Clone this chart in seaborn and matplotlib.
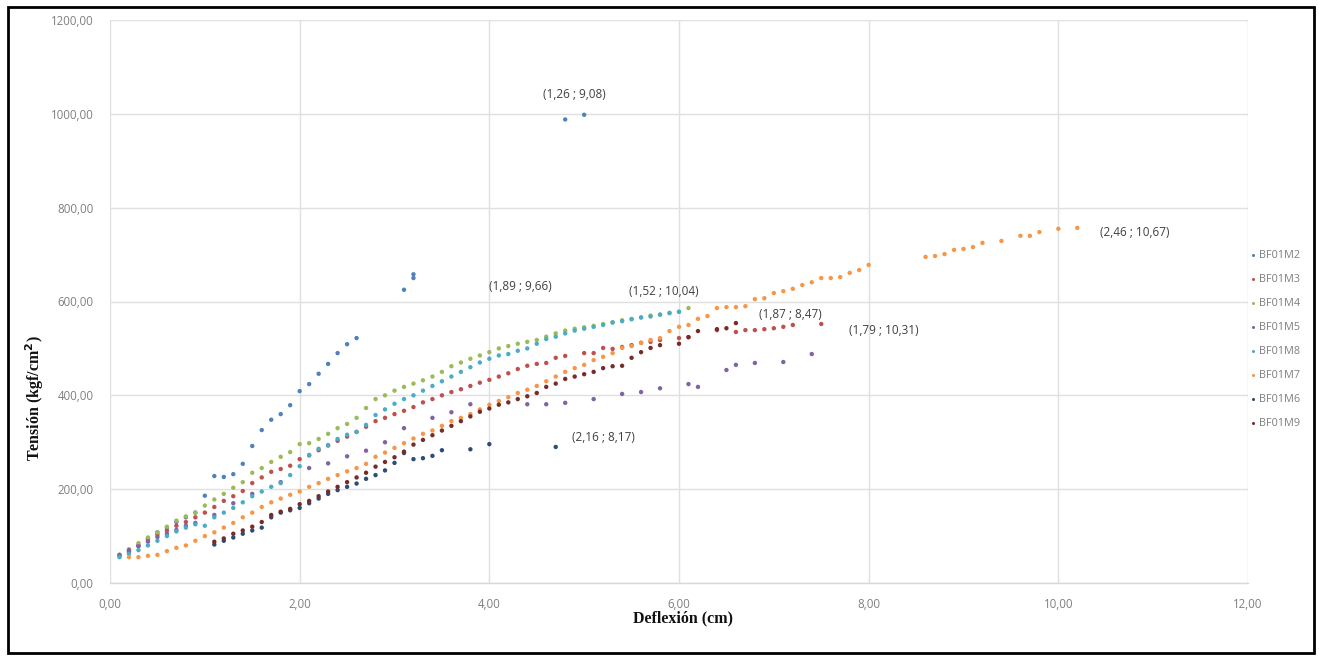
import matplotlib
matplotlib.use("Agg")
import matplotlib.pyplot as plt
import seaborn as sns
import pandas as pd
from matplotlib.patches import Rectangle
from matplotlib.ticker import FuncFormatter

# ---------------- data ----------------
series_names = ["BF01M2", "BF01M3", "BF01M4", "BF01M5", "BF01M8", "BF01M7", "BF01M6", "BF01M9"]

m2_x = [0.1, 0.2, 0.3, 0.4, 0.5, 0.6, 0.7, 0.8, 0.9, 1.0, 1.1, 1.2, 1.3, 1.4, 1.5, 1.6, 1.7, 1.8, 1.9,
        2.0, 2.1, 2.2, 2.3, 2.4, 2.5, 2.6, 3.1, 3.2, 3.2, 4.8, 5.0]
m2_y = [58, 68, 80, 95, 108, 118, 130, 140, 150, 186, 228, 226, 232, 254, 292, 326, 348, 360, 379,
        409, 424, 446, 467, 490, 509, 522, 625, 650, 658, 988, 998]

m3_x = [0.1, 0.2, 0.3, 0.4, 0.5, 0.6, 0.7, 0.8, 0.9, 1.0, 1.1, 1.2, 1.3, 1.4, 1.5, 1.6, 1.7, 1.8, 1.9,
        2.0, 2.1, 2.2, 2.3, 2.4, 2.5, 2.6, 2.7, 2.8, 2.9, 3.0, 3.1, 3.2, 3.3, 3.4, 3.5, 3.6, 3.7, 3.8,
        3.9, 4.0, 4.1, 4.2, 4.3, 4.4, 4.5, 4.6, 4.7, 4.8, 5.0, 5.1, 5.2, 5.3, 5.4, 5.5, 5.6, 5.7, 5.8,
        6.0, 6.1, 6.4, 6.6, 6.7, 6.8, 6.9, 7.0, 7.1, 7.2, 7.5]
m3_y = [58, 66, 80, 92, 103, 112, 122, 130, 140, 150, 162, 175, 185, 196, 213, 225, 237, 243, 250,
        264, 272, 283, 293, 303, 312, 322, 333, 345, 352, 360, 367, 375, 385, 392, 400, 407, 413, 420,
        427, 433, 440, 447, 456, 463, 467, 469, 480, 484, 490, 490, 501, 499, 503, 507, 512, 514, 518,
        522, 524, 539, 535, 539, 539, 541, 543, 546, 550, 552]

m4_x = [0.1, 0.2, 0.3, 0.4, 0.5, 0.6, 0.7, 0.8, 0.9, 1.0, 1.1, 1.2, 1.3, 1.4, 1.5, 1.6, 1.7, 1.8, 1.9,
        2.0, 2.1, 2.2, 2.3, 2.4, 2.5, 2.6, 2.7, 2.8, 2.9, 3.0, 3.1, 3.2, 3.3, 3.4, 3.5, 3.6, 3.7, 3.8,
        3.9, 4.0, 4.1, 4.2, 4.3, 4.4, 4.5, 4.6, 4.7, 4.8, 4.9, 5.0, 5.1, 5.2, 5.3, 5.4, 5.5, 5.6, 5.7,
        5.8, 5.9, 6.0, 6.1]
m4_y = [60, 72, 85, 97, 108, 120, 133, 142, 150, 165, 178, 190, 203, 215, 235, 245, 258, 269, 279,
        296, 298, 307, 318, 330, 339, 352, 373, 392, 400, 410, 418, 425, 432, 440, 450, 462, 470, 478,
        485, 492, 500, 505, 510, 514, 518, 525, 532, 538, 542, 545, 548, 552, 556, 560, 563, 566, 570,
        572, 576, 578, 586]

m5_x = [0.1, 0.2, 0.3, 0.4, 0.5, 0.6, 0.7, 0.8, 0.9, 1.1, 1.3, 1.5, 1.8, 2.1, 2.3, 2.5, 2.7, 2.9, 3.1,
        3.4, 3.6, 3.8, 4.4, 4.6, 4.8, 5.1, 5.4, 5.6, 5.8, 6.1, 6.2, 6.5, 6.6, 6.8, 7.1, 7.4]
m5_y = [60, 70, 78, 88, 98, 105, 113, 122, 128, 145, 170, 190, 215, 245, 255, 270, 282, 300, 330,
        352, 364, 381, 381, 381, 384, 392, 403, 407, 415, 424, 418, 454, 465, 469, 471, 488]

m8_x = [0.1, 0.2, 0.3, 0.4, 0.5, 0.6, 0.7, 0.8, 0.9, 1.0, 1.1, 1.2, 1.3, 1.4, 1.5, 1.6, 1.7, 1.8, 1.9,
        2.0, 2.1, 2.2, 2.3, 2.4, 2.5, 2.6, 2.7, 2.8, 2.9, 3.0, 3.1, 3.2, 3.3, 3.4, 3.5, 3.6, 3.7, 3.8,
        3.9, 4.0, 4.1, 4.2, 4.3, 4.4, 4.5, 4.6, 4.7, 4.8, 4.9, 5.0, 5.1, 5.2, 5.3, 5.4, 5.5, 5.6, 5.7,
        5.8, 5.9, 6.0]
m8_y = [55, 62, 70, 80, 90, 100, 110, 118, 125, 122, 140, 150, 160, 172, 185, 195, 205, 213, 230,
        249, 273, 286, 294, 307, 316, 322, 337, 358, 370, 382, 392, 400, 410, 420, 430, 440, 450, 460,
        470, 478, 485, 488, 495, 500, 510, 520, 525, 532, 538, 542, 546, 550, 555, 558, 562, 566, 568,
        572, 575, 578]

m7_x = [0.2, 0.3, 0.4, 0.5, 0.6, 0.7, 0.8, 0.9, 1.0, 1.1, 1.2, 1.3, 1.4, 1.5, 1.6, 1.7, 1.8, 1.9, 2.0,
        2.1, 2.2, 2.3, 2.4, 2.5, 2.6, 2.7, 2.8, 2.9, 3.0, 3.1, 3.2, 3.3, 3.4, 3.5, 3.6, 3.7, 3.8, 3.9,
        4.0, 4.1, 4.2, 4.3, 4.4, 4.5, 4.6, 4.7, 4.8, 4.9, 5.0, 5.1, 5.2, 5.3, 5.4, 5.5, 5.6, 5.7, 5.8,
        5.9, 6.0, 6.1, 6.2, 6.3, 6.4, 6.5, 6.6, 6.7, 6.8, 6.9, 7.0, 7.1, 7.2, 7.3, 7.4, 7.5, 7.6, 7.7,
        7.8, 7.9, 8.0, 8.6, 8.7, 8.8, 8.9, 9.0, 9.1, 9.2, 9.4, 9.6, 9.7, 9.8, 10.0, 10.2]
m7_y = [55, 55, 58, 60, 68, 75, 80, 90, 100, 108, 118, 128, 140, 150, 162, 172, 180, 188, 195,
        205, 213, 222, 230, 238, 245, 254, 269, 278, 288, 298, 308, 318, 325, 335, 345, 352, 360, 370,
        380, 388, 396, 405, 412, 420, 430, 440, 450, 458, 465, 475, 482, 490, 501, 505, 512, 518, 522,
        537, 546, 550, 563, 569, 586, 588, 588, 590, 605, 607, 618, 622, 627, 635, 641, 650, 650, 652,
        661, 667, 678, 695, 697, 701, 710, 712, 716, 725, 729, 740, 740, 748, 755, 757]

m6_x = [1.1, 1.2, 1.3, 1.4, 1.5, 1.6, 1.7, 1.8, 1.9, 2.0, 2.1, 2.2, 2.3, 2.4, 2.5, 2.6, 2.7, 2.8, 2.9,
        3.0, 3.1, 3.2, 3.3, 3.4, 3.5, 3.8, 4.0, 4.7]
m6_y = [82, 90, 97, 105, 112, 118, 140, 150, 155, 160, 170, 180, 190, 198, 205, 212, 222, 230, 240,
        256, 277, 264, 266, 271, 283, 285, 296, 290]

m9_x = [1.1, 1.2, 1.3, 1.4, 1.5, 1.6, 1.7, 1.8, 1.9, 2.0, 2.1, 2.2, 2.3, 2.4, 2.5, 2.6, 2.7, 2.8, 2.9,
        3.0, 3.1, 3.2, 3.3, 3.4, 3.5, 3.6, 3.7, 3.8, 3.9, 4.0, 4.1, 4.2, 4.3, 4.4, 4.5, 4.6, 4.7, 4.8,
        4.9, 5.0, 5.1, 5.2, 5.3, 5.4, 5.5, 5.6, 5.7, 5.8, 6.0, 6.1, 6.2, 6.4, 6.5, 6.6]
m9_y = [88, 95, 105, 112, 120, 130, 145, 152, 158, 168, 175, 185, 195, 205, 215, 225, 235, 248, 258,
        268, 280, 295, 305, 315, 325, 335, 345, 355, 365, 372, 380, 385, 392, 398, 405, 418, 425, 435,
        440, 445, 450, 458, 462, 463, 480, 492, 501, 507, 510, 524, 537, 541, 543, 554]

series_colors = ["#4F81BD", "#C0504D", "#9BBB59", "#8064A2", "#4BACC6", "#F79646", "#2C4D75", "#772C2A"]

annot_texts = ["(1,26 ; 9,08)", "(1,89 ; 9,66)", "(1,52 ; 10,04)", "(1,87 ; 8,47)",
               "(1,79 ; 10,31)", "(2,46 ; 10,67)", "(2,16 ; 8,17)"]
annot_x = [4.90, 4.33, 5.84, 7.17, 8.16, 10.81, 5.20]
annot_y = [1042, 633, 622, 573, 539, 748, 311]

x_ticks = [0, 2, 4, 6, 8, 10, 12]
y_ticks = [0, 200, 400, 600, 800, 1000, 1200]

# ---------------- build table ----------------
all_x = [m2_x, m3_x, m4_x, m5_x, m8_x, m7_x, m6_x, m9_x]
all_y = [m2_y, m3_y, m4_y, m5_y, m8_y, m7_y, m6_y, m9_y]
frames = []
for name, xs, ys in zip(series_names, all_x, all_y):
    frames.append(pd.DataFrame({"x": xs, "y": ys, "serie": name}))
df = pd.concat(frames, ignore_index=True)

sns.set_theme(style="white")
plt.rcParams["font.family"] = ["Open Sans", "DejaVu Sans"]

fig = plt.figure(figsize=(13.19, 6.58), dpi=100)
ax = fig.add_axes([110 / 1319, 75 / 658, 1138 / 1319, 563 / 658])

palette = dict(zip(series_names, series_colors))
sns.scatterplot(data=df, x="x", y="y", hue="serie", hue_order=series_names,
                palette=palette, s=10, linewidth=0, ax=ax, legend=True, zorder=3)

ax.set_xlim(0, 12)
ax.set_ylim(0, 1200)
ax.set_xticks(x_ticks)
ax.set_yticks(y_ticks)
fmt = FuncFormatter(lambda v, p: f"{v:.2f}".replace(".", ","))
ax.xaxis.set_major_formatter(fmt)
ax.yaxis.set_major_formatter(fmt)
ax.tick_params(axis="both", length=0, labelsize=8.3, labelcolor="#7F7F7F")
ax.tick_params(axis="x", pad=11)
ax.tick_params(axis="y", pad=12)
ax.grid(True, color="#E0E0E0", linewidth=1.0)
ax.set_axisbelow(True)
for side in ["top", "right", "left"]:
    ax.spines[side].set_visible(False)
ax.spines["bottom"].set_color("#D9D9D9")
ax.spines["bottom"].set_linewidth(1.0)

ax.set_xlabel("Deflexión (cm)", family="Liberation Serif", fontweight="bold",
              fontsize=11.5, color="#111111")
ax.set_ylabel("Tensión (kgf/cm$^{\\mathbf{2}}$)", family="Liberation Serif", fontweight="bold",
              fontsize=11.5, color="#111111")
ax.xaxis.set_label_coords((683 - 110) / 1138, (583 - 618) / 563)
ax.yaxis.set_label_coords((35 - 110) / 1138, (583 - 398) / 563)
ax.xaxis.label.set_va("center")
ax.yaxis.label.set_va("center")

for t, xv, yv in zip(annot_texts, annot_x, annot_y):
    ax.text(xv, yv, t, ha="center", va="center", fontsize=8.5, color="#404040")

handles, labels = ax.get_legend_handles_labels()
ax.legend(handles, labels, loc="upper left", bbox_to_anchor=(1242 / 1319, 1 - 245 / 658),
          bbox_transform=fig.transFigure, frameon=False, fontsize=7.8, labelcolor="#7F7F7F",
          handletextpad=0.1, labelspacing=1.2, markerscale=0.7, handlelength=1.0, borderpad=0)

fig.patches.append(Rectangle((8 / 1319, 5 / 658), 1306 / 1319, 646 / 658, transform=fig.transFigure,
                             fill=False, edgecolor="black", linewidth=2))

fig.savefig("out.png", dpi=100, facecolor="white")
